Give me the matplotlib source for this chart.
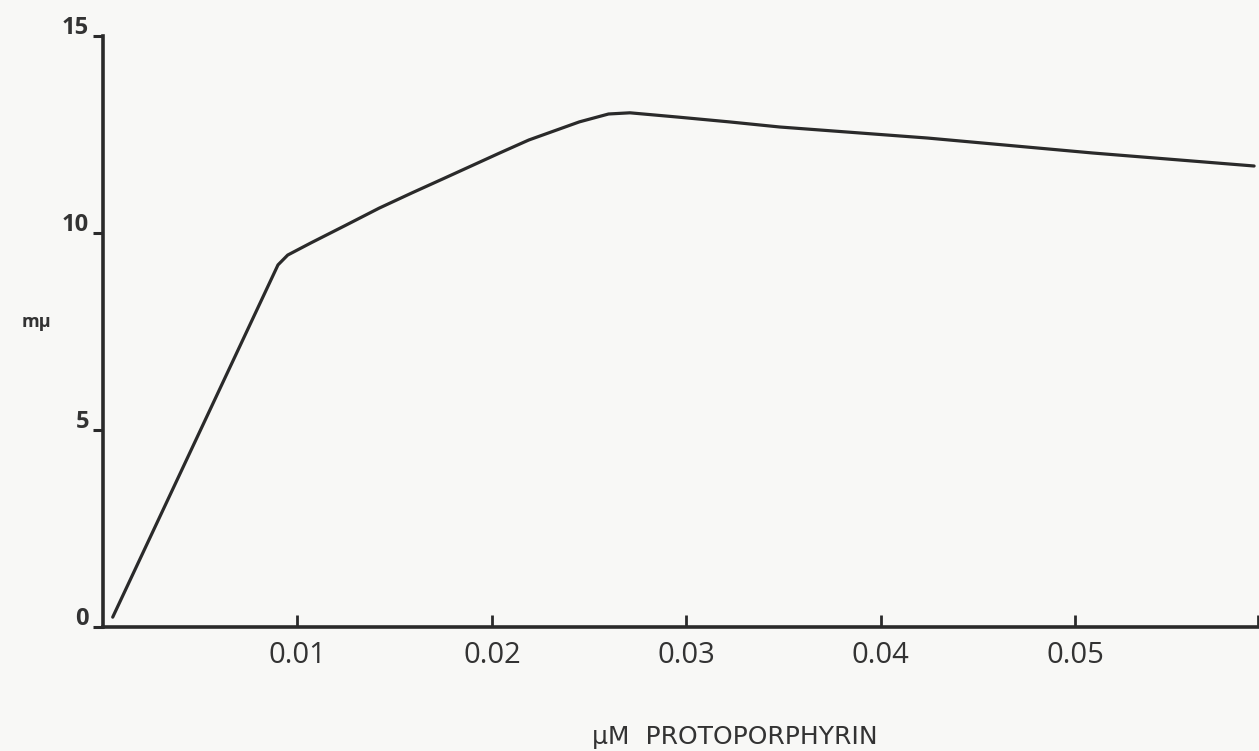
import matplotlib
matplotlib.use("Agg")
import matplotlib.pyplot as plt
import matplotlib.transforms as mtransforms

plt.rcParams['font.family'] = ['Open Sans', 'DejaVu Sans']

# Data
conc = [0.0005, 0.0090, 0.0095, 0.0107, 0.0125, 0.0142, 0.0159, 0.0176,
        0.0204, 0.0219, 0.0245, 0.0260, 0.0271, 0.0296, 0.0322, 0.0348,
        0.0424, 0.0509, 0.0592]
activity = [0.25, 9.19, 9.44, 9.75, 10.20, 10.63, 11.02, 11.40,
            12.03, 12.36, 12.82, 13.02, 13.05, 12.94, 12.82, 12.69,
            12.41, 12.03, 11.70]

x_ticks = [0.01, 0.02, 0.03, 0.04, 0.05]
x_tick_labels = ["0.01", "0.02", "0.03", "0.04", "0.05"]
y_ticks = [0, 5, 10, 15]
y_tick_labels = ["0", "5", "10", "15"]
x_max = 0.0594

ink = "#2a2a2a"
text_c = "#333333"
paper = "#f8f8f6"

fig = plt.figure(figsize=(12.59, 7.51), dpi=100, facecolor=paper)
ax = fig.add_axes([0.0818, 0.1651, 0.9174, 0.787], facecolor=paper)

ax.plot(conc, activity, color=ink, lw=2.3, solid_joinstyle='round',
        solid_capstyle='round')

ax.set_xlim(0, x_max)
ax.set_ylim(0, 15)

for s in ['top', 'right']:
    ax.spines[s].set_visible(False)
for s in ['left', 'bottom']:
    ax.spines[s].set_color(ink)
    ax.spines[s].set_linewidth(2.6)

ax.set_xticks(x_ticks + [x_max])
ax.set_xticklabels(x_tick_labels + [""], fontsize=21, color=text_c)
ax.tick_params(axis='x', direction='in', length=9, width=2, color=ink, pad=10)

ax.set_yticks(y_ticks)
ax.set_yticklabels(y_tick_labels, fontsize=17, color=text_c, fontweight='bold')
ax.tick_params(axis='y', direction='out', length=7, width=2.2, color=ink, pad=3)
offset = mtransforms.ScaledTranslation(0, 8 / 72, fig.dpi_scale_trans)
for lab in ax.get_yticklabels():
    lab.set_transform(lab.get_transform() + offset)

ax.set_xlabel("\u03bcM  PROTOPORPHYRIN", fontsize=18, color=text_c,
              family=['DejaVu Sans'])
ax.xaxis.set_label_coords(0.547, -0.165)
ax.set_ylabel("m\u03bc", fontsize=13, color=text_c, rotation=0, fontweight='bold')
ax.yaxis.set_label_coords(-0.058, 0.50)

fig.savefig("out.png", dpi=100, facecolor=paper)
